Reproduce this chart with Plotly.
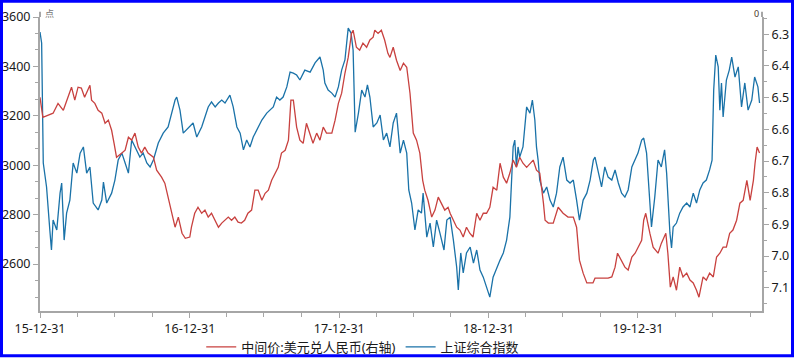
import plotly.graph_objects as go
import pandas as pd

# ---------------- data ----------------
sse_dates = [
"2015-12-31","2016-01-04","2016-01-08","2016-01-16","2016-01-24","2016-01-28","2016-02-01","2016-02-10","2016-02-18","2016-02-22",
"2016-02-28","2016-03-05","2016-03-13","2016-03-21","2016-03-30","2016-04-07","2016-04-15","2016-04-23","2016-05-01","2016-05-09",
"2016-05-21","2016-05-30","2016-06-03","2016-06-11","2016-06-23","2016-07-01","2016-07-09","2016-07-18","2016-07-26","2016-08-03",
"2016-08-11","2016-08-19","2016-08-31","2016-09-08","2016-09-17","2016-09-25","2016-10-03","2016-10-15","2016-10-27","2016-11-08",
"2016-11-17","2016-11-25","2016-11-29","2016-12-07","2016-12-15","2016-12-23","2016-12-31","2017-01-08","2017-01-17","2017-01-29",
"2017-02-06","2017-02-14","2017-02-22","2017-03-03","2017-03-11","2017-03-19","2017-03-27","2017-04-08","2017-04-16","2017-04-25",
"2017-05-03","2017-05-11","2017-05-19","2017-05-27","2017-06-04","2017-06-12","2017-06-25","2017-07-07","2017-07-15","2017-07-23",
"2017-07-31","2017-08-08","2017-08-16","2017-08-25","2017-09-02","2017-09-10","2017-09-18","2017-09-26","2017-10-08","2017-10-21",
"2017-11-02","2017-11-14","2017-11-22","2017-11-26","2017-12-04","2017-12-13","2017-12-21","2017-12-29","2018-01-06","2018-01-14",
"2018-01-22","2018-01-29","2018-02-03","2018-02-08","2018-02-16","2018-02-24","2018-03-04","2018-03-10","2018-03-16","2018-03-24",
"2018-04-02","2018-04-10","2018-04-18","2018-04-26","2018-05-04","2018-05-12","2018-05-20","2018-05-29","2018-06-06","2018-06-14",
"2018-06-19","2018-06-26","2018-07-04","2018-07-12","2018-07-20","2018-07-24","2018-08-02","2018-08-10","2018-08-18","2018-08-26",
"2018-09-03","2018-09-13","2018-09-20","2018-09-28","2018-10-06","2018-10-14","2018-10-18","2018-10-24","2018-10-30","2018-11-07",
"2018-11-16","2018-11-24","2018-12-02","2018-12-10","2018-12-18","2018-12-26","2019-01-03","2019-01-11","2019-01-20","2019-01-28",
"2019-02-05","2019-02-13","2019-02-21","2019-02-25","2019-03-01","2019-03-05","2019-03-09","2019-03-13","2019-03-17","2019-03-25",
"2019-04-03","2019-04-11","2019-04-17","2019-04-23","2019-04-27","2019-05-01","2019-05-05","2019-05-14","2019-05-22","2019-05-30",
"2019-06-07","2019-06-15","2019-06-23","2019-07-01","2019-07-10","2019-07-18","2019-07-26","2019-08-03","2019-08-10","2019-08-19",
"2019-08-28","2019-09-05","2019-09-13","2019-09-17","2019-09-25","2019-10-03","2019-10-11","2019-10-19","2019-10-28","2019-11-05",
"2019-11-13","2019-11-21","2019-11-29","2019-12-07","2019-12-16","2019-12-24","2019-12-31","2020-01-09","2020-01-14","2020-01-21",
"2020-01-29","2020-02-02","2020-02-10","2020-02-18","2020-02-26","2020-03-05","2020-03-10","2020-03-18","2020-03-22","2020-03-26",
"2020-04-03","2020-04-11","2020-04-19","2020-04-28","2020-05-06","2020-05-14","2020-05-22","2020-05-30","2020-06-07","2020-06-15",
"2020-06-23","2020-06-29","2020-07-03","2020-07-08","2020-07-14","2020-07-18","2020-07-22","2020-07-26","2020-08-03","2020-08-10",
"2020-08-16","2020-08-24","2020-09-01","2020-09-05","2020-09-09","2020-09-17","2020-09-25","2020-10-04","2020-10-11","2020-10-19",
"2020-10-23"]
sse_values = [
3539,3495,3009,2912,2738,2657,2778,2738,2887,2928,
2697,2806,2859,3009,2968,3049,3074,2968,2993,2847,
2819,2859,2932,2847,2887,2940,3021,3049,3009,2968,
3102,3074,3033,3049,3009,2993,3021,3090,3130,3155,
3211,3264,3276,3223,3130,3143,3155,3171,3114,3155,
3195,3236,3256,3236,3252,3264,3252,3284,3236,3155,
3130,3062,3102,3074,3114,3143,3183,3211,3223,3236,
3276,3264,3276,3317,3377,3373,3365,3345,3385,3377,
3414,3438,3385,3333,3304,3292,3276,3317,3385,3426,
3555,3535,3466,3134,3211,3304,3276,3325,3276,3155,
3171,3203,3102,3130,3074,3171,3211,3049,3102,3049,
2900,2847,2738,2819,2806,2887,2709,2766,2669,2778,
2726,2657,2778,2790,2697,2588,2495,2645,2564,2645,
2669,2604,2657,2576,2547,2507,2466,2547,2588,2616,
2645,2697,2790,2968,3074,3102,2993,3074,3033,3074,
3236,3211,3264,3183,3074,3021,2940,2887,2912,2859,
2831,2887,2993,3033,2940,2928,2940,2859,2778,2859,
2887,2940,3021,3033,2968,2912,2993,2952,2940,2981,
2928,2887,2871,2900,2993,3021,3049,3102,3110,3049,
2847,2750,2871,3021,2993,3062,2968,2726,2665,2750,
2766,2806,2831,2847,2831,2887,2847,2900,2928,2940,
2981,3021,3304,3446,3398,3223,3333,3195,3345,3385,
3438,3357,3398,3317,3236,3333,3223,3264,3357,3317,
3252]

cny_dates = [
"2015-12-31","2016-01-07","2016-02-01","2016-02-13","2016-02-26","2016-03-05","2016-03-17","2016-03-25","2016-04-02","2016-04-10",
"2016-04-18","2016-05-01","2016-05-05","2016-05-13","2016-05-21","2016-05-30","2016-06-07","2016-06-15","2016-06-23","2016-06-29",
"2016-07-05","2016-07-18","2016-07-26","2016-08-03","2016-08-11","2016-08-19","2016-08-27","2016-09-04","2016-09-12","2016-09-20",
"2016-10-03","2016-10-11","2016-10-23","2016-10-31","2016-11-08","2016-11-17","2016-11-25","2016-12-03","2016-12-12","2016-12-20",
"2016-12-31","2017-01-04","2017-01-12","2017-01-20","2017-01-29","2017-02-06","2017-02-14","2017-02-22","2017-03-03","2017-03-11",
"2017-03-19","2017-03-27","2017-04-04","2017-04-12","2017-04-20","2017-04-28","2017-05-06","2017-05-14","2017-05-22","2017-05-31",
"2017-06-08","2017-06-16","2017-06-25","2017-07-03","2017-07-11","2017-07-19","2017-07-27","2017-08-04","2017-08-12","2017-08-21",
"2017-08-29","2017-09-04","2017-09-10","2017-09-18","2017-09-26","2017-10-04","2017-10-12","2017-10-20","2017-10-28","2017-11-06",
"2017-11-14","2017-11-22","2017-11-30","2017-12-13","2017-12-21","2017-12-29","2018-01-06","2018-01-14","2018-01-22","2018-01-30",
"2018-02-03","2018-02-11","2018-02-19","2018-02-27","2018-03-08","2018-03-16","2018-03-24","2018-03-28","2018-04-05","2018-04-13",
"2018-04-21","2018-04-29","2018-05-04","2018-05-12","2018-05-20","2018-05-29","2018-06-06","2018-06-14","2018-06-22","2018-06-30",
"2018-07-08","2018-07-16","2018-07-23","2018-07-28","2018-08-05","2018-08-14","2018-08-22","2018-08-30","2018-09-07","2018-09-15",
"2018-09-23","2018-09-28","2018-10-06","2018-10-14","2018-10-22","2018-10-30","2018-11-07","2018-11-15","2018-11-23","2018-12-02",
"2018-12-10","2018-12-18","2018-12-26","2019-01-03","2019-01-11","2019-01-20","2019-01-28","2019-02-05","2019-02-13","2019-02-21",
"2019-03-01","2019-03-09","2019-03-17","2019-03-25","2019-04-03","2019-04-11","2019-04-19","2019-04-27","2019-05-05","2019-05-14",
"2019-05-18","2019-05-26","2019-06-07","2019-06-19","2019-07-01","2019-07-13","2019-07-26","2019-08-03","2019-08-10","2019-08-19",
"2019-08-28","2019-09-12","2019-09-17","2019-10-03","2019-10-19","2019-10-28","2019-11-05","2019-11-11","2019-11-21","2019-11-29",
"2019-12-07","2019-12-16","2019-12-24","2019-12-31","2020-01-09","2020-01-14","2020-01-19","2020-01-29","2020-02-06","2020-02-18",
"2020-02-26","2020-03-08","2020-03-13","2020-03-19","2020-03-26","2020-04-03","2020-04-11","2020-04-19","2020-04-28","2020-05-06",
"2020-05-14","2020-05-22","2020-05-28","2020-06-07","2020-06-15","2020-06-23","2020-07-02","2020-07-10","2020-07-18","2020-07-26",
"2020-08-03","2020-08-11","2020-08-19","2020-08-28","2020-09-05","2020-09-13","2020-09-22","2020-09-30","2020-10-08","2020-10-12",
"2020-10-17","2020-10-23"]
cny_values = [
6.499,6.562,6.549,6.518,6.540,6.508,6.467,6.508,6.467,6.470,
6.499,6.461,6.508,6.518,6.540,6.549,6.581,6.571,6.603,6.644,
6.688,6.675,6.666,6.625,6.634,6.612,6.656,6.675,6.656,6.675,
6.688,6.729,6.751,6.770,6.814,6.865,6.909,6.877,6.928,6.944,
6.940,6.909,6.865,6.846,6.865,6.855,6.877,6.865,6.887,6.909,
6.896,6.887,6.877,6.887,6.877,6.893,6.896,6.887,6.865,6.855,
6.792,6.792,6.824,6.802,6.792,6.761,6.738,6.720,6.675,6.666,
6.634,6.508,6.508,6.593,6.634,6.644,6.581,6.612,6.644,6.612,
6.634,6.593,6.612,6.612,6.571,6.518,6.486,6.423,6.373,6.297,
6.287,6.341,6.350,6.328,6.341,6.318,6.309,6.287,6.297,6.287,
6.318,6.360,6.373,6.341,6.382,6.414,6.391,6.404,6.486,6.612,
6.634,6.675,6.761,6.792,6.824,6.877,6.855,6.814,6.833,6.855,
6.846,6.865,6.887,6.909,6.918,6.940,6.909,6.928,6.940,6.865,
6.887,6.865,6.865,6.846,6.783,6.792,6.707,6.751,6.770,6.738,
6.697,6.720,6.688,6.707,6.720,6.707,6.697,6.729,6.738,6.833,
6.887,6.896,6.896,6.846,6.865,6.877,6.877,6.909,7.013,7.054,
7.085,7.085,7.070,7.070,7.070,7.066,7.035,6.991,7.013,7.035,
7.044,7.003,6.991,6.972,6.950,6.887,6.865,6.928,6.972,6.991,
6.960,6.928,6.991,7.098,7.066,7.108,7.035,7.066,7.054,7.076,
7.085,7.108,7.130,7.066,7.076,7.054,7.066,7.003,6.991,6.972,
6.972,6.928,6.918,6.887,6.833,6.824,6.761,6.824,6.761,6.707,
6.656,6.675]

year_ticks = ["2015-12-31", "2016-12-31", "2017-12-31", "2018-12-31", "2019-12-31"]
year_labels = ["15-12-31", "16-12-31", "17-12-31", "18-12-31", "19-12-31"]

name_cny = "中间价:美元兑人民币(右轴)"
name_sse = "上证综合指数"

# ---------------- figure ----------------
FONT = "Noto Sans, Noto Sans CJK SC, sans-serif"
AX = "#a6a6a6"
TXT = "#1a1a1a"

fig = go.Figure()
fig.add_trace(go.Scatter(x=cny_dates, y=cny_values, name=name_cny, yaxis="y2",
                         mode="lines", line=dict(color="#c8413f", width=1.3)))
fig.add_trace(go.Scatter(x=sse_dates, y=sse_values, name=name_sse, yaxis="y",
                         mode="lines", line=dict(color="#1a72a8", width=1.3)))

quarters = [d.strftime("%Y-%m-%d") for d in pd.date_range("2015-12-31", "2020-10-29", freq="QE")]

fig.update_layout(
    width=794, height=358,
    margin=dict(l=40, r=32, t=17, b=47, autoexpand=False),
    paper_bgcolor="white", plot_bgcolor="white",
    font=dict(family=FONT, size=13, color=TXT),
    showlegend=True,
    legend=dict(orientation="h", x=0.447, xanchor="center", y=-0.122, yanchor="middle",
                font=dict(size=13, color=TXT), itemwidth=30, tracegroupgap=0,
                bgcolor="rgba(0,0,0,0)"),
    xaxis=dict(type="date", range=["2015-12-31", "2020-10-29"], automargin=False,
               tickmode="array", tickvals=year_ticks, ticktext=year_labels,
               showgrid=False, zeroline=False,
               showline=True, linecolor=AX, linewidth=2,
               ticks="outside", ticklen=5, tickwidth=1, tickcolor=AX,
               tickfont=dict(size=12.5, color=TXT),
               minor=dict(tickmode="array", tickvals=quarters, ticks="outside",
                          ticklen=4, tickwidth=1, tickcolor=AX, showgrid=False)),
    yaxis=dict(range=[2410, 3600], tickmode="linear", tick0=2600, dtick=200, automargin=False,
               showgrid=False, zeroline=False,
               showline=True, linecolor=AX, linewidth=2,
               ticks="outside", ticklen=5, tickwidth=1, tickcolor=AX,
               tickfont=dict(size=12.5, color=TXT),
               minor=dict(tick0=2600, dtick=200/3, ticks="outside", ticklen=3,
                          tickwidth=1, tickcolor=AX, showgrid=False)),
    yaxis2=dict(range=[7.1735, 6.2454], overlaying="y", side="right", anchor="x", automargin=False,
                tickmode="linear", tick0=6.3, dtick=0.1, tickformat=".1f",
                showgrid=False, zeroline=False,
                showline=True, linecolor=AX, linewidth=2,
                ticks="outside", ticklen=5, tickwidth=1, tickcolor=AX,
                tickfont=dict(size=12.5, color=TXT),
                minor=dict(tick0=6.25, dtick=0.05, ticks="outside", ticklen=3,
                           tickwidth=1, tickcolor=AX, showgrid=False)),
)

# axis extensions above plot top
for xp in (0, 1):
    fig.add_shape(type="line", xref="paper", yref="paper", x0=xp, x1=xp, y0=1.0, y1=1.018,
                  line=dict(color=AX, width=2))

# unit labels
fig.add_annotation(text="点", xref="paper", yref="paper", x=0.004, y=1.012,
                   xanchor="left", yanchor="middle", showarrow=False,
                   font=dict(size=9, color="#777777"))
fig.add_annotation(text="0", xref="paper", yref="paper", x=0.9985, y=1.012,
                   xanchor="right", yanchor="middle", showarrow=False,
                   font=dict(size=9, color="#4a3a2a"))

# blue outer frame
fig.add_shape(type="rect", xref="paper", yref="paper",
              x0=(1.5 - 40) / 722, x1=(792.5 - 40) / 722,
              y0=(311 - 355.8) / 294, y1=(311 - 1.2) / 294,
              line=dict(color="#0000ff", width=3), fillcolor="rgba(0,0,0,0)", layer="above")

fig.write_html("out.html",
               config={"displayModeBar": False},
               post_script="document.body.style.margin='0';document.body.style.padding='0';"
                           "document.body.style.overflow='hidden';")
